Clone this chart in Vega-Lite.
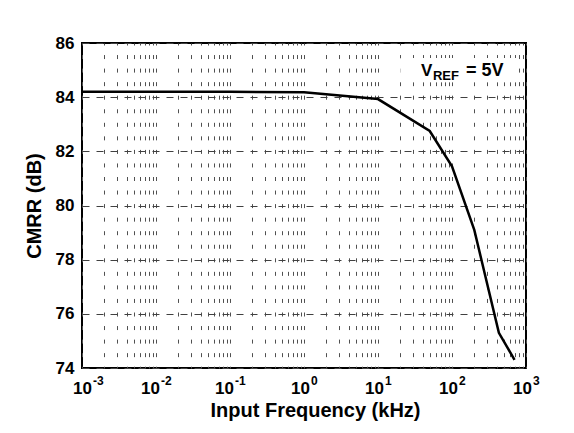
{
  "$schema": "https://vega.github.io/schema/vega-lite/v6.json",
  "width": 444,
  "height": 325,
  "autosize": "none",
  "padding": {"left": 82, "top": 43, "right": 48, "bottom": 65},
  "background": "white",
  "config": {
    "font": "Liberation Sans",
    "view": {"stroke": "black", "strokeWidth": 2},
    "axis": {
      "labelFont": "Liberation Sans",
      "titleFont": "Liberation Sans",
      "labelFontWeight": "bold",
      "titleFontWeight": "bold",
      "labelColor": "black",
      "titleColor": "black"
    },
    "text": {"font": "Liberation Sans", "fontWeight": "bold", "color": "black"}
  },
  "datasets": {
    "cmrr": [
      {"f": 0.001, "cmrr": 84.2},
      {"f": 0.01, "cmrr": 84.2},
      {"f": 0.1, "cmrr": 84.2},
      {"f": 1, "cmrr": 84.18},
      {"f": 10, "cmrr": 83.93},
      {"f": 50, "cmrr": 82.75},
      {"f": 100, "cmrr": 81.45},
      {"f": 200, "cmrr": 79.1},
      {"f": 430, "cmrr": 75.3},
      {"f": 700, "cmrr": 74.3}
    ],
    "decades": [
      {"f": 0.001, "exp": "-3"},
      {"f": 0.01, "exp": "-2"},
      {"f": 0.1, "exp": "-1"},
      {"f": 1, "exp": "0"},
      {"f": 10, "exp": "1"},
      {"f": 100, "exp": "2"},
      {"f": 1000, "exp": "3"}
    ]
  },
  "layer": [
    {
      "data": {"name": "cmrr"},
      "mark": {"type": "line", "color": "black", "strokeWidth": 2.5, "clip": true},
      "encoding": {
        "x": {
          "field": "f",
          "type": "quantitative",
          "title": "Input Frequency (kHz)",
          "scale": {"type": "log", "domain": [0.001, 1000], "nice": false},
          "axis": {
            "title": "Input Frequency (kHz)",
            "titleFontSize": 20,
            "titlePadding": 32,
            "titleX": 233,
            "labels": false,
            "ticks": false,
            "domain": false,
            "grid": true,
            "gridColor": "#505050",
            "gridWidth": 1,
            "gridDash": [4, 9.55],
            "gridDashOffset": 2,
            "values": [0.001, 0.002, 0.003, 0.004, 0.005, 0.006, 0.007, 0.008, 0.009,
                       0.01, 0.02, 0.03, 0.04, 0.05, 0.06, 0.07, 0.08, 0.09,
                       0.1, 0.2, 0.3, 0.4, 0.5, 0.6, 0.7, 0.8, 0.9,
                       1, 2, 3, 4, 5, 6, 7, 8, 9,
                       10, 20, 30, 40, 50, 60, 70, 80, 90,
                       100, 200, 300, 400, 500, 600, 700, 800, 900, 1000]
          }
        },
        "y": {
          "field": "cmrr",
          "type": "quantitative",
          "title": "CMRR (dB)",
          "scale": {"domain": [74, 86], "nice": false, "zero": false},
          "axis": {
            "title": "CMRR (dB)",
            "titleFontSize": 20,
            "titlePadding": 11,
            "values": [74, 76, 78, 80, 82, 84, 86],
            "labelFontSize": 17,
            "labelPadding": 8,
            "ticks": false,
            "domain": false,
            "grid": true,
            "gridColor": "#404040",
            "gridWidth": 1,
            "gridDash": [7, 7]
          }
        }
      }
    },
    {
      "data": {"values": [{}]},
      "mark": {"type": "rect", "color": "white"},
      "encoding": {
        "x": {"datum": 20, "type": "quantitative", "title": "Input Frequency (kHz)"},
        "x2": {"datum": 750},
        "y": {"datum": 84.55, "type": "quantitative", "title": "CMRR (dB)"},
        "y2": {"datum": 85.45}
      }
    },
    {
      "data": {"name": "decades"},
      "transform": [{"filter": "datum.f == 0.001"}],
      "mark": {"type": "text", "align": "right", "baseline": "alphabetic", "fontSize": 17, "dx": 10, "dy": 26},
      "encoding": {
        "x": {"field": "f", "type": "quantitative", "title": "Input Frequency (kHz)"},
        "y": {"datum": 74, "type": "quantitative", "title": "CMRR (dB)"},
        "text": {"value": "10"}
      }
    },
    {
      "data": {"name": "decades"},
      "transform": [{"filter": "datum.f > 0.001 && datum.f < 1"}],
      "mark": {"type": "text", "align": "right", "baseline": "alphabetic", "fontSize": 17, "dx": 4, "dy": 26},
      "encoding": {
        "x": {"field": "f", "type": "quantitative", "title": "Input Frequency (kHz)"},
        "y": {"datum": 74, "type": "quantitative", "title": "CMRR (dB)"},
        "text": {"value": "10"}
      }
    },
    {
      "data": {"name": "decades"},
      "transform": [{"filter": "datum.f >= 1"}],
      "mark": {"type": "text", "align": "right", "baseline": "alphabetic", "fontSize": 17, "dx": 6, "dy": 26},
      "encoding": {
        "x": {"field": "f", "type": "quantitative", "title": "Input Frequency (kHz)"},
        "y": {"datum": 74, "type": "quantitative", "title": "CMRR (dB)"},
        "text": {"value": "10"}
      }
    },
    {
      "data": {"name": "decades"},
      "transform": [{"filter": "datum.f == 0.001"}],
      "mark": {"type": "text", "align": "left", "baseline": "alphabetic", "fontSize": 12, "dx": 11, "dy": 17},
      "encoding": {
        "x": {"field": "f", "type": "quantitative", "title": "Input Frequency (kHz)"},
        "y": {"datum": 74, "type": "quantitative", "title": "CMRR (dB)"},
        "text": {"field": "exp"}
      }
    },
    {
      "data": {"name": "decades"},
      "transform": [{"filter": "datum.f > 0.001 && datum.f < 1"}],
      "mark": {"type": "text", "align": "left", "baseline": "alphabetic", "fontSize": 12, "dx": 5, "dy": 17},
      "encoding": {
        "x": {"field": "f", "type": "quantitative", "title": "Input Frequency (kHz)"},
        "y": {"datum": 74, "type": "quantitative", "title": "CMRR (dB)"},
        "text": {"field": "exp"}
      }
    },
    {
      "data": {"name": "decades"},
      "transform": [{"filter": "datum.f >= 1"}],
      "mark": {"type": "text", "align": "left", "baseline": "alphabetic", "fontSize": 12, "dx": 7, "dy": 17},
      "encoding": {
        "x": {"field": "f", "type": "quantitative", "title": "Input Frequency (kHz)"},
        "y": {"datum": 74, "type": "quantitative", "title": "CMRR (dB)"},
        "text": {"field": "exp"}
      }
    },
    {
      "data": {"values": [{}]},
      "mark": {"type": "text", "align": "left", "baseline": "alphabetic", "fontSize": 17},
      "encoding": {
        "x": {"datum": 38, "type": "quantitative", "title": "Input Frequency (kHz)"},
        "y": {"datum": 84.77, "type": "quantitative", "title": "CMRR (dB)"},
        "text": {"value": "V"}
      }
    },
    {
      "data": {"values": [{}]},
      "mark": {"type": "text", "align": "left", "baseline": "alphabetic", "fontSize": 13, "dx": 12, "dy": 4},
      "encoding": {
        "x": {"datum": 38, "type": "quantitative", "title": "Input Frequency (kHz)"},
        "y": {"datum": 84.77, "type": "quantitative", "title": "CMRR (dB)"},
        "text": {"value": "REF"}
      }
    },
    {
      "data": {"values": [{}]},
      "mark": {"type": "text", "align": "left", "baseline": "alphabetic", "fontSize": 18, "dx": 45},
      "encoding": {
        "x": {"datum": 38, "type": "quantitative", "title": "Input Frequency (kHz)"},
        "y": {"datum": 84.77, "type": "quantitative", "title": "CMRR (dB)"},
        "text": {"value": "= 5V"}
      }
    }
  ]
}
